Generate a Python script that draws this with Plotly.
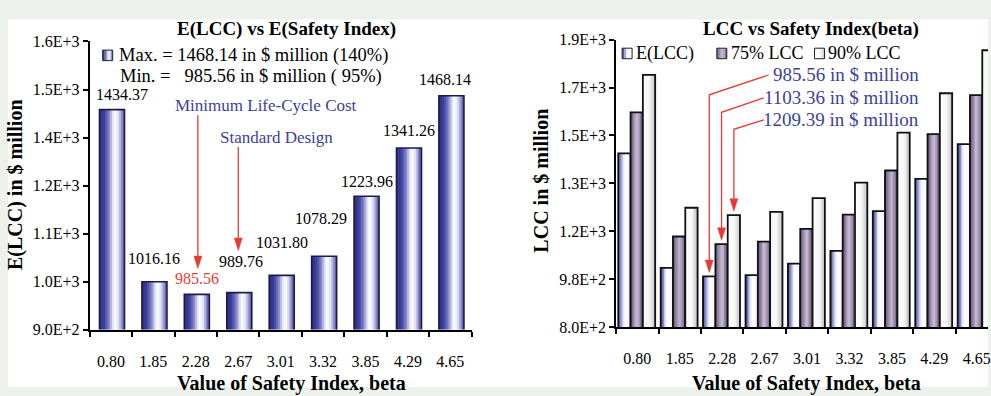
import plotly.graph_objects as go

# ---------------- data ----------------
beta_labels = ["0.80", "1.85", "2.28", "2.67", "3.01", "3.32", "3.85", "4.29", "4.65"]
e_lcc = [1434.37, 1016.16, 985.56, 989.76, 1031.80, 1078.29, 1223.96, 1341.26, 1468.14]
lcc_75 = [1584, 1131, 1103.36, 1112, 1159, 1211, 1372, 1505, 1647]
lcc_90 = [1721, 1236, 1209.39, 1221, 1271, 1328, 1510, 1654, 1811]

left_tick_text = ["9.0E+2", "1.0E+3", "1.1E+3", "1.2E+3", "1.4E+3", "1.5E+3", "1.6E+3"]
right_tick_text = ["8.0E+2", "9.8E+2", "1.2E+3", "1.3E+3", "1.5E+3", "1.7E+3", "1.9E+3"]
left_y_range = [900, 1600]
right_y_range = [800, 1850]
standard_idx = 3

# ---------------- geometry / style ----------------
W, H = 991, 396
FONT = "Liberation Serif"
RED = "#e63b35"
BLUE_TXT = "#3d3f9e"

L_X0, L_X1, L_YT, L_YB = 90, 473, 35, 336
R_X0, R_X1, R_YT, R_YB = 618, 991, 33, 333.5
CAT_W = (L_X1 - L_X0) / 9.0
R_XR = [-0.5, -0.5 + (R_X1 - R_X0) / CAT_W]


def px(x):
    return x / W


def py(y):
    return 1 - y / H


def hexrgb(h):
    h = h.lstrip("#")
    return tuple(int(h[i:i + 2], 16) for i in (0, 2, 4))


def grad(stops, t):
    for (t0, c0), (t1, c1) in zip(stops[:-1], stops[1:]):
        if t0 <= t <= t1:
            f = (t - t0) / (t1 - t0) if t1 > t0 else 0
            a, b = hexrgb(c0), hexrgb(c1)
            r = [round(a[k] + (b[k] - a[k]) * f) for k in range(3)]
            return "rgb(%d,%d,%d)" % tuple(r)
    return stops[-1][1]


BLUE_GRAD = [(0, "#2c2e7c"), (0.2, "#3d40a0"), (0.38, "#8083c8"), (0.52, "#dcddf2"),
             (0.62, "#ffffff"), (0.74, "#e4e5f5"), (0.88, "#9597d2"), (1, "#5254aa")]
E_GRAD = [(0, "#3a3c98"), (0.2, "#7779c2"), (0.45, "#e6e7f6"), (0.6, "#ffffff"), (1, "#f4f4fb")]
P_GRAD = [(0, "#5b4b6e"), (0.25, "#8d7d9f"), (0.55, "#c9bed3"), (0.8, "#9c8eac"), (1, "#5f4f72")]
W_GRAD = [(0, "#ffffff"), (0.6, "#f6f6f6"), (1, "#c4c4c4")]

fig = go.Figure()


def shaded_bars(x, y, offset, width, stops, xa, ya, outline, lw, n=14):
    step = width / n
    for i in range(n):
        start = offset + i * step
        w = min(step * 1.35, offset + width - start)
        fig.add_trace(go.Bar(x=x, y=y, offset=start, width=w,
                             marker=dict(color=grad(stops, (i + 0.5) / n), line=dict(width=0)),
                             xaxis=xa, yaxis=ya, showlegend=False, hoverinfo="skip"))
    fig.add_trace(go.Bar(x=x, y=y, offset=offset, width=width,
                         marker=dict(color="rgba(0,0,0,0)", line=dict(color=outline, width=lw)),
                         xaxis=xa, yaxis=ya, showlegend=False, hoverinfo="skip"))


xs = list(range(len(beta_labels)))

# left panel: expected life-cycle cost
L_OFF, L_WID = -0.27, 0.59
shaded_bars(xs, e_lcc, L_OFF, L_WID, BLUE_GRAD, "x", "y", "#1c1c48", 1.6)

# right panel: E(LCC), 75% and 90% LCC
R_OFFS = [-0.45, -0.16, 0.13]
R_WID = 0.29
for vals, stops, off in zip([e_lcc, lcc_75, lcc_90], [E_GRAD, P_GRAD, W_GRAD], R_OFFS):
    shaded_bars(xs, vals, off, R_WID, stops, "x2", "y2", "#111111", 1.8)


def linspace(a, b, n):
    return [a + (b - a) * i / (n - 1) for i in range(n)]


tickfont = dict(family=FONT, size=16, color="black")
common_x = dict(tickvals=xs, ticktext=beta_labels, ticks="", showline=True, linecolor="black",
                linewidth=2, showgrid=False, zeroline=False, tickfont=tickfont,
                ticklabelstandoff=16, ticklabeloverflow="allow",
                minor=dict(tickmode="array", tickvals=[i - 0.5 for i in range(10)], ticks="outside",
                           ticklen=5, tickwidth=1.5, tickcolor="black", showgrid=False))
common_y = dict(ticks="outside", ticklen=5, tickwidth=1.5, tickcolor="black", showline=True,
                linecolor="black", linewidth=2, showgrid=False, zeroline=False, tickfont=tickfont)

fig.update_layout(
    width=W, height=H, autosize=False,
    margin=dict(l=0, r=0, t=0, b=0),
    paper_bgcolor="#edf1ec", plot_bgcolor="rgba(0,0,0,0)",
    barmode="overlay", showlegend=False,
    xaxis=dict(domain=[px(L_X0), px(L_X1)], range=[-0.5, 8.5], anchor="y", **common_x),
    yaxis=dict(domain=[py(L_YB), py(L_YT)], range=left_y_range, anchor="x",
               tickvals=linspace(*left_y_range, 7), ticktext=left_tick_text, **common_y),
    xaxis2=dict(domain=[px(R_X0), px(R_X1)], range=R_XR, anchor="y2", **common_x),
    yaxis2=dict(domain=[py(R_YB), py(R_YT)], range=right_y_range, anchor="x2",
                tickvals=linspace(*right_y_range, 7), ticktext=right_tick_text, **common_y),
)

shapes = [dict(type="rect", xref="paper", yref="paper", x0=px(8), x1=1, y0=0, y1=py(12),
               fillcolor="white", line=dict(width=0), layer="below")]
ann = []


def text(x, y, s, size=15, color="black", bold=False, xanchor="center", angle=0, yanchor="middle"):
    ann.append(dict(xref="paper", yref="paper", x=px(x), y=py(y), text=("<b>%s</b>" % s) if bold else s,
                    showarrow=False, xanchor=xanchor, yanchor=yanchor, textangle=angle,
                    font=dict(family=FONT, size=size, color=color)))


def gradient_square(x0, y0, x1, y1, stops, n=5):
    step = (x1 - x0) / n
    for i in range(n):
        shapes.append(dict(type="rect", xref="paper", yref="paper", x0=px(x0 + i * step),
                           x1=px(x0 + (i + 1) * step), y0=py(y1), y1=py(y0),
                           fillcolor=grad(stops, (i + 0.5) / n), line=dict(width=0)))
    shapes.append(dict(type="rect", xref="paper", yref="paper", x0=px(x0), x1=px(x1),
                       y0=py(y1), y1=py(y0), line=dict(color="#222", width=1)))


def arrow(x, y_top, y_tip, pts=None):
    path = "M%f,%f" % (px(x), py(y_top))
    if pts:
        path = "M" + " L".join("%f,%f" % (px(a), py(b)) for a, b in pts) + " L%f,%f" % (px(x), py(y_top))
    path += " L%f,%f" % (px(x), py(y_tip - 10))
    shapes.append(dict(type="path", xref="paper", yref="paper", path=path,
                       line=dict(color=RED, width=1.3)))
    head = "M%f,%f L%f,%f L%f,%f Z" % (px(x - 4), py(y_tip - 13), px(x + 4), py(y_tip - 13),
                                      px(x), py(y_tip))
    shapes.append(dict(type="path", xref="paper", yref="paper", path=head,
                       fillcolor=RED, line=dict(color=RED, width=0.5)))


# ---- left panel texts ----
text(287, 22, "E(LCC) vs E(Safety Index)", size=19, bold=True)
text(15, 184, "E(LCC) in $ million", size=20, bold=True, angle=-90)
text(292, 406, "Value of Safety Index, beta", size=20, bold=True, yanchor="bottom")

i_max = max(xs, key=lambda i: e_lcc[i])
i_min = min(xs, key=lambda i: e_lcc[i])
gradient_square(103, 44, 113, 55, BLUE_GRAD)
text(117, 50, "Max. = %.2f in $ million (140%%)" % e_lcc[i_max], size=18.5, xanchor="left")
text(118, 72, "Min. =\u00a0\u00a0\u00a0%.2f in $ million (\u00a095%%)" % e_lcc[i_min], size=18.5, xanchor="left")
text(267, 102, "Minimum Life-Cycle Cost", size=17, color=BLUE_TXT)
text(277, 135, "Standard Design", size=17, color=BLUE_TXT)

label_rise = [15, 23, 16, 31, 33, 38, 15, 17, 16]
label_dx = [10, 0, 0, 2, 0, -3, 0, 0, -6]
for i, v in enumerate(e_lcc):
    ann.append(dict(xref="x", yref="y", x=i + L_OFF + L_WID / 2, y=v, text="%.2f" % v,
                    showarrow=False, yanchor="middle", yshift=label_rise[i], xshift=label_dx[i],
                    font=dict(family=FONT, size=16, color=RED if i == i_min else "black")))


def l_xpix(v):
    return L_X0 + (v + 0.5) * CAT_W


def l_ypix(v):
    return L_YB - (v - left_y_range[0]) / (left_y_range[1] - left_y_range[0]) * (L_YB - L_YT)


arrow(l_xpix(i_min + L_OFF + L_WID / 2) + 1, 112, l_ypix(e_lcc[i_min]) - 27)
arrow(l_xpix(standard_idx + L_OFF + L_WID / 2) - 1, 145, l_ypix(e_lcc[standard_idx]) - 44)

# ---- right panel texts ----
text(813, 22, "LCC vs Safety Index(beta)", size=19, bold=True)
text(543, 180, "LCC in $ million", size=20, bold=True, angle=-90)
text(809, 406, "Value of Safety Index, beta", size=20, bold=True, yanchor="bottom")

legend_items = [("E(LCC)", E_GRAD, 624), ("75% LCC", P_GRAD, 719), ("90% LCC", W_GRAD, 817)]
for name, stops, x0 in legend_items:
    gradient_square(x0, 42, x0 + 10, 53, stops)
    text(x0 + 12, 47.5, name, size=18, xanchor="left")


def r_xpix(v):
    return R_X0 + (v - R_XR[0]) / (R_XR[1] - R_XR[0]) * (R_X1 - R_X0)


def r_ypix(v):
    return R_YB - (v - right_y_range[0]) / (right_y_range[1] - right_y_range[0]) * (R_YB - R_YT)


callout_rows = [(70, 771, 90.7), (94, 766, 109), (117, 766, 126.7)]
for k, (vals, (ty, lx, top)) in enumerate(zip([e_lcc, lcc_75, lcc_90], callout_rows)):
    text(924, ty, "%.2f in $ million" % vals[i_min], size=19, color=BLUE_TXT, xanchor="right")
    bx = r_xpix(i_min + R_OFFS[k] + R_WID / 2)
    arrow(bx, top, r_ypix(vals[i_min]) - 4, pts=[(lx, ty)])

fig.update_layout(shapes=shapes, annotations=ann)
fig.write_html("out.html")
